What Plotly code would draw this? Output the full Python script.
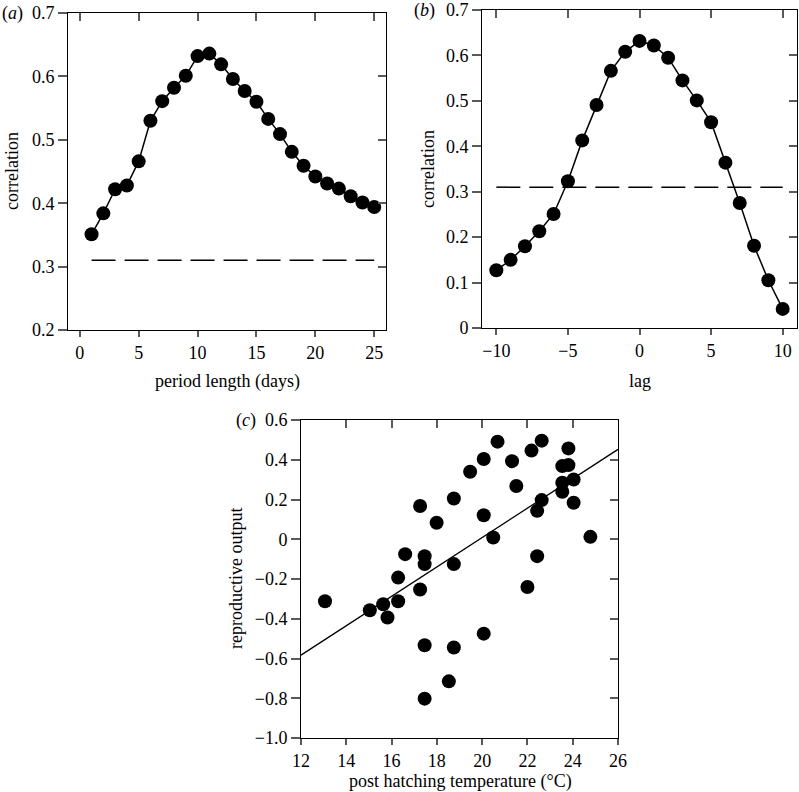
import plotly.graph_objects as go

# (a) correlation against length of the averaging period
period_days = list(range(1, 26))
corr_period = [0.351, 0.384, 0.422, 0.428, 0.466, 0.530, 0.561, 0.582, 0.601, 0.632,
               0.636, 0.619, 0.596, 0.577, 0.560, 0.533, 0.509, 0.481, 0.459, 0.442,
               0.431, 0.423, 0.411, 0.401, 0.394]

# (b) correlation against lag
lag = list(range(-10, 11))
corr_lag = [0.127, 0.150, 0.180, 0.213, 0.251, 0.323, 0.413, 0.491, 0.566, 0.608,
            0.632, 0.622, 0.595, 0.545, 0.501, 0.453, 0.364, 0.275, 0.181, 0.105,
            0.042]

# significance threshold (dashed)
threshold = 0.31

# (c) reproductive output against post hatching temperature
temp_c = [13.06, 15.04, 15.63, 15.82, 16.29, 16.29, 16.60, 17.26, 17.26, 17.46,
          17.46, 17.46, 17.46, 17.99, 18.75, 18.75, 18.75, 18.53, 19.47, 20.07,
          20.07, 20.07, 20.49, 20.68, 21.32, 21.51, 22.00, 22.18, 22.43, 22.43,
          22.63, 22.63, 23.54, 23.54, 23.54, 23.81, 23.81, 24.04, 24.04, 24.78]
repro = [-0.312, -0.357, -0.327, -0.394, -0.312, -0.193, -0.075, 0.167, -0.253, -0.085,
         -0.125, -0.533, -0.802, 0.083, 0.205, -0.125, -0.545, -0.715, 0.340, 0.404,
         0.121, -0.475, 0.009, 0.491, 0.393, 0.268, -0.240, 0.446, 0.143, -0.085,
         0.496, 0.197, 0.368, 0.284, 0.239, 0.457, 0.373, 0.301, 0.184, 0.012]
fit_x = [12, 26]
fit_y = [-0.583, 0.452]

# tick labels
xa_ticks = [0, 5, 10, 15, 20, 25]
ya_ticks = [0.2, 0.3, 0.4, 0.5, 0.6, 0.7]
xb_ticks = [-10, -5, 0, 5, 10]
xb_text = ["\u221210", "\u22125", "0", "5", "10"]
yb_ticks = [0, 0.1, 0.2, 0.3, 0.4, 0.5, 0.6, 0.7]
yb_text = ["0", "0.1", "0.2", "0.3", "0.4", "0.5", "0.6", "0.7"]
xc_ticks = [12, 14, 16, 18, 20, 22, 24, 26]
yc_ticks = [-1.0, -0.8, -0.6, -0.4, -0.2, 0, 0.2, 0.4, 0.6]
yc_text = ["\u22121.0", "\u22120.8", "\u22120.6", "\u22120.4", "\u22120.2", "0", "0.2", "0.4", "0.6"]

FONT = "Liberation Serif, Times New Roman, serif"
W, H = 799, 792
TICKCOL = "#5a5a5a"
MSIZE = 14

fig = go.Figure()

fig.add_trace(go.Scatter(x=period_days, y=corr_period, mode="lines+markers",
                         line=dict(color="black", width=1.5),
                         marker=dict(color="black", size=MSIZE), xaxis="x", yaxis="y"))
fig.add_trace(go.Scatter(x=[period_days[0], period_days[-1]], y=[threshold, threshold],
                         mode="lines", line=dict(color="black", width=1.5, dash="24px,9px"),
                         xaxis="x", yaxis="y"))

fig.add_trace(go.Scatter(x=lag, y=corr_lag, mode="lines+markers",
                         line=dict(color="black", width=1.5),
                         marker=dict(color="black", size=MSIZE), xaxis="x2", yaxis="y2"))
fig.add_trace(go.Scatter(x=[lag[0], lag[-1]], y=[threshold, threshold],
                         mode="lines", line=dict(color="black", width=1.5, dash="24px,9px"),
                         xaxis="x2", yaxis="y2"))

fig.add_trace(go.Scatter(x=fit_x, y=fit_y, mode="lines",
                         line=dict(color="black", width=1.3), xaxis="x3", yaxis="y3"))
fig.add_trace(go.Scatter(x=temp_c, y=repro, mode="markers",
                         marker=dict(color="black", size=MSIZE), xaxis="x3", yaxis="y3"))

# empty traces so the top/right tick axes get drawn
for xa, ya in [("x4", "y"), ("x", "y4"), ("x5", "y2"), ("x2", "y5"), ("x6", "y3"), ("x3", "y6")]:
    fig.add_trace(go.Scatter(x=[None], y=[None], mode="markers", xaxis=xa, yaxis=ya,
                             hoverinfo="skip"))


def px(v):
    return v / W


def py(v):
    return 1 - v / H


def main_axis(dom, rng, tickvals, ticktext, anchor, ticklen):
    return dict(domain=dom, range=rng, tickvals=tickvals, ticktext=ticktext,
                anchor=anchor, showline=True, linecolor="black", linewidth=1,
                mirror=True, ticks="outside", ticklen=ticklen, tickwidth=1.5,
                tickcolor=TICKCOL, showgrid=False, zeroline=False, automargin=False,
                tickfont=dict(family=FONT, size=18, color="black"))


def inner_axis(over, rng, tickvals, anchor, side):
    return dict(overlaying=over, range=rng, tickvals=tickvals, anchor=anchor,
                side=side, ticks="inside", ticklen=8, tickwidth=1.5,
                tickcolor=TICKCOL, showticklabels=False, showline=False,
                showgrid=False, zeroline=False, automargin=False)


ra_x, ra_y = [-1, 26], [0.2, 0.7]
rb_x, rb_y = [-11, 11], [0, 0.7]
rc_x, rc_y = [12, 26], [-1.0, 0.6]

fig.update_layout(
    width=W, height=H,
    margin=dict(l=0, r=0, t=0, b=0, autoexpand=False),
    paper_bgcolor="white", plot_bgcolor="white",
    showlegend=False,
    font=dict(family=FONT, size=18, color="black"),
    xaxis=main_axis([px(68), px(386)], ra_x, xa_ticks, None, "y", 6),
    yaxis=main_axis([py(330), py(13)], ra_y, ya_ticks, None, "x", 9),
    xaxis2=main_axis([px(482), px(797)], rb_x, xb_ticks, xb_text, "y2", 6),
    yaxis2=main_axis([py(328), py(10)], rb_y, yb_ticks, yb_text, "x2", 9),
    xaxis3=main_axis([px(301), px(618)], rc_x, xc_ticks, None, "y3", 6),
    yaxis3=main_axis([py(738), py(420)], rc_y, yc_ticks, yc_text, "x3", 9),
    xaxis4=inner_axis("x", ra_x, xa_ticks, "y", "top"),
    yaxis4=inner_axis("y", ra_y, ya_ticks, "x", "right"),
    xaxis5=inner_axis("x2", rb_x, xb_ticks, "y2", "top"),
    yaxis5=inner_axis("y2", rb_y, yb_ticks, "x2", "right"),
    xaxis6=inner_axis("x3", rc_x, xc_ticks, "y3", "top"),
    yaxis6=inner_axis("y3", rc_y, yc_ticks, "x3", "right"),
)


def label(text, x, y, xanchor="center", angle=0):
    fig.add_annotation(text=text, x=px(x), y=py(y), xref="paper", yref="paper",
                       xanchor=xanchor, yanchor="middle", showarrow=False,
                       textangle=angle, font=dict(family=FONT, size=18, color="black"))


# panel letters
label("(<i>a</i>)", 0, 13, xanchor="left")
label("(<i>b</i>)", 412, 10, xanchor="left")
label("(<i>c</i>)", 234, 420, xanchor="left")

# axis titles
label("correlation", 12, 171, angle=-90)
label("period length (days)", 227, 381)
label("correlation", 428, 169, angle=-90)
label("lag", 640, 381)
label("reproductive output", 236, 579, angle=-90)
label("post hatching temperature (\u00b0C)", 460, 781)

# drop the default 8px page margin so the figure sits at the window corner
fig.write_html("out.html", config={"displayModeBar": False},
               post_script="document.body.style.margin = '0';")
